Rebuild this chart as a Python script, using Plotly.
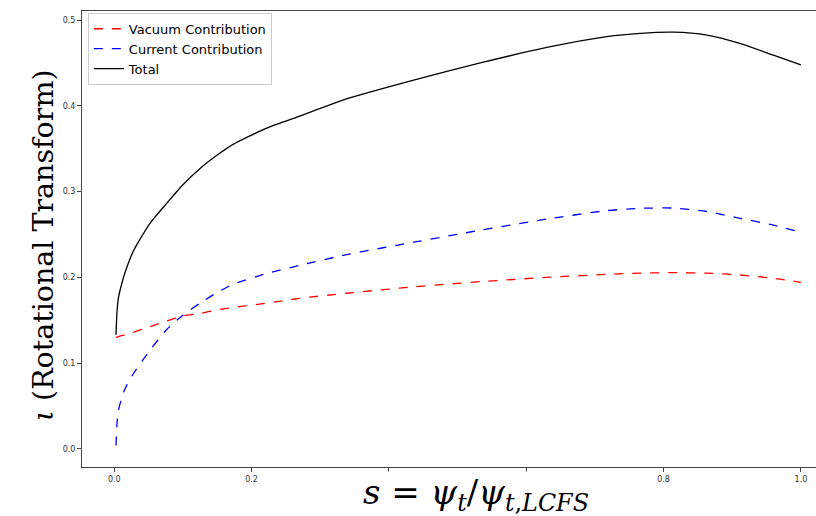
import plotly.graph_objects as go

s_vals = [0.0025, 0.004, 0.006, 0.01, 0.015, 0.028, 0.052, 0.076, 0.10, 0.125, 0.149, 0.173,
          0.222, 0.27, 0.338, 0.436, 0.533, 0.63, 0.717, 0.766, 0.814, 0.863, 0.911, 0.96, 1.0]
vacuum = [0.130, 0.1305, 0.131, 0.132, 0.133, 0.136, 0.1426, 0.149, 0.155, 0.158, 0.162, 0.165,
          0.170, 0.1756, 0.1815, 0.189, 0.195, 0.200, 0.2035, 0.205, 0.2055, 0.205, 0.2028, 0.199, 0.1943]
current = [0.004, 0.030, 0.045, 0.057, 0.069, 0.088, 0.115, 0.139, 0.156, 0.170, 0.182, 0.192,
           0.2045, 0.214, 0.2265, 0.241, 0.255, 0.268, 0.2778, 0.2805, 0.2808, 0.2768, 0.2689, 0.261, 0.2525]
total = [0.133, 0.160, 0.176, 0.190, 0.204, 0.231, 0.263, 0.286, 0.308, 0.327, 0.342, 0.355,
         0.374, 0.388, 0.408, 0.430, 0.450, 0.468, 0.4806, 0.4845, 0.4858, 0.4825, 0.4728, 0.459, 0.4476]

x_ticks = [0.0, 0.2, 0.4, 0.6, 0.8, 1.0]
y_ticks = [0.0, 0.1, 0.2, 0.3, 0.4, 0.5]

fig = go.Figure()
fig.add_trace(go.Scatter(x=s_vals, y=vacuum, mode="lines", name="Vacuum Contribution",
                         line=dict(color="red", dash="dash", width=1.3, shape="spline", smoothing=0.6)))
fig.add_trace(go.Scatter(x=s_vals, y=current, mode="lines", name="Current Contribution",
                         line=dict(color="blue", dash="dash", width=1.3, shape="spline", smoothing=0.6)))
fig.add_trace(go.Scatter(x=s_vals, y=total, mode="lines", name="Total",
                         line=dict(color="black", width=1.3, shape="spline", smoothing=0.6)))

axis_common = dict(showgrid=False, zeroline=False, showline=True, linecolor="#444", linewidth=1,
                   mirror=True, ticks="outside", ticklen=4, tickcolor="#444", automargin=False,
                   tickfont=dict(family="DejaVu Sans", size=8, color="#333"), tickformat=".1f")

fig.update_layout(
    width=816, height=516,
    margin=dict(l=82, r=0, t=11, b=49),
    plot_bgcolor="white", paper_bgcolor="white",
    xaxis=dict(range=[-0.047, 1.022], tickvals=x_ticks, **axis_common),
    yaxis=dict(range=[-0.021, 0.5105], tickvals=y_ticks, **axis_common),
    legend=dict(x=0.008, y=0.996, xanchor="left", yanchor="top",
                bgcolor="rgba(255,255,255,0.8)", bordercolor="#ccc", borderwidth=1,
                font=dict(family="DejaVu Sans", size=13, color="black"), tracegroupgap=0),
    showlegend=True,
)

fig.add_annotation(xref="paper", yref="paper", x=-0.05, y=0.487, xanchor="center", yanchor="middle",
                   text="<i>ι</i> (Rotational Transform)", textangle=-90, showarrow=False,
                   xshift=-1, font=dict(family="DejaVu Serif", size=28.5, color="black"))
fig.add_annotation(xref="paper", yref="paper", x=0.537, y=-0.0614, xanchor="center", yanchor="middle",
                   text="<i>s</i> = <i>ψ</i><sub><i>t</i></sub>/<i>ψ</i><sub><i>t</i>,<i>LCFS</i></sub>",
                   showarrow=False, bgcolor="white", borderpad=0,
                   font=dict(family="DejaVu Serif", size=34, color="black"))

fig.write_html(
    "out.html",
    config={"responsive": False, "displayModeBar": False},
    post_script="document.body.style.margin='0';document.body.style.overflow='hidden';",
)
